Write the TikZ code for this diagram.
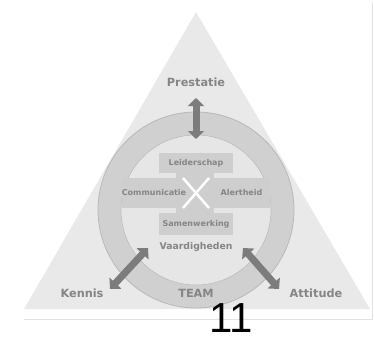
\documentclass[tikz,border=0pt]{standalone}
\usepackage{fontspec}
\newfontfamily\labelfont{DejaVu Sans}
\newfontfamily\numfont{Liberation Sans}
\usetikzlibrary{arrows.meta}
\definecolor{trigray}{HTML}{E9E9E9}
\definecolor{ringgray}{HTML}{D0D0D0}
\definecolor{ringline}{HTML}{B8B8B8}
\definecolor{innergray}{HTML}{E6E6E6}
\definecolor{boxgray}{HTML}{CECECE}
\definecolor{txtgray}{HTML}{858585}
\definecolor{arrowgray}{HTML}{7C7C7C}
\definecolor{framegray}{HTML}{E2E2E2}

\begin{document}
\begin{tikzpicture}[x=1pt,y=-1pt,
  lbl/.style={font=\labelfont\bfseries\fontsize{11.3}{13}\selectfont,text=txtgray,inner sep=0pt},
  boxlbl/.style={font=\labelfont\bfseries\fontsize{8}{9}\selectfont,text=txtgray,fill=boxgray,inner sep=0pt},
  bigarrow/.style={draw=arrowgray,line width=7pt,{Triangle[width=16pt,length=8pt]}-{Triangle[width=16pt,length=8pt]}}]
\useasboundingbox (0,0) rectangle (374,337);
% frame lines
\draw[framegray,line width=1pt] (372,2) -- (372,319) -- (24,319);
% triangle
\fill[trigray] (196,12) -- (370,309) -- (24,309) -- cycle;
% ring and inner disc
\coordinate (hub) at (196,210);
\filldraw[fill=ringgray,draw=ringline,line width=0.8pt] (hub) circle (98);
\filldraw[fill=innergray,draw=ringline,line width=0.5pt] (hub) circle (75);
% skill boxes
\node at (196,163)[boxlbl,minimum width=74pt,minimum height=20pt] (lead) {Leiderschap};
\node at (196,224)[boxlbl,minimum width=74pt,minimum height=22pt] (coop) {Samenwerking};
\fill[boxgray] (176,172) rectangle (214,214);
\node at (154,193)[boxlbl,minimum width=62pt,minimum height=30pt] (comm) {Communicatie};
\node at (241.5,193)[boxlbl,minimum width=57pt,minimum height=30pt] (alert) {Alertheid};
\coordinate (mid) at (196,193);
\draw[white,line width=2.5pt,shift={(mid)}] (-13,-15) -- (13,15) (13,-15) -- (-13,15);
% outer labels
\node at (196,82)[lbl] (prest) {Prestatie};
\node at (196,247)[lbl,font=\labelfont\bfseries\fontsize{9.3}{11}\selectfont] (vaard) {Vaardigheden};
\node at (196,293)[lbl] (team) {TEAM};
\node at (82,293)[lbl] (kennis) {Kennis};
\node at (316,293)[lbl] (att) {Attitude};
% arrows
\coordinate (ptop) at (196,98);
\coordinate (pbot) at (196,139);
\coordinate (kout) at (110,289);
\coordinate (kin) at (148,248);
\coordinate (ain) at (243,248);
\coordinate (aout) at (279,289);
\draw[bigarrow] (ptop) -- (pbot);
\draw[bigarrow] (kout) -- (kin);
\draw[bigarrow] (ain) -- (aout);
% page number
\node at (231,332)[anchor=base,inner sep=0pt,font=\numfont\fontsize{42}{42}\selectfont] (pnum) {11};
\end{tikzpicture}
\end{document}
